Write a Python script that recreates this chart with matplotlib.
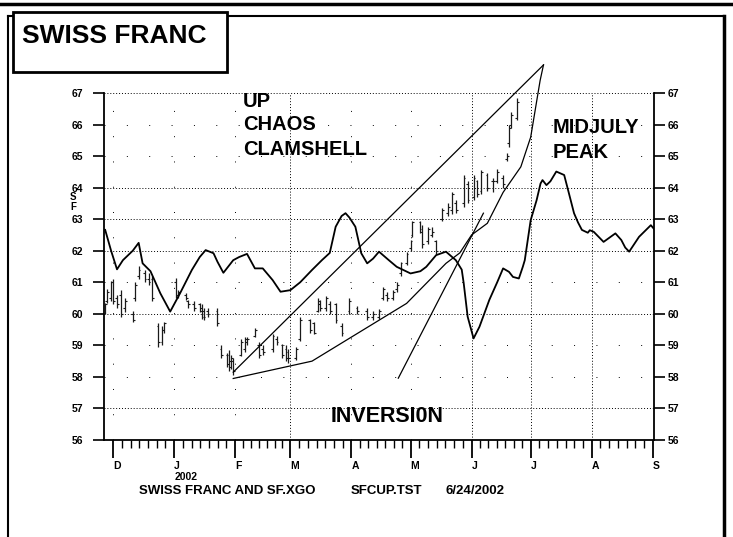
import numpy as np
import pandas as pd
import matplotlib
matplotlib.use("Agg")
import matplotlib.pyplot as plt
from matplotlib.patches import Rectangle
from matplotlib.lines import Line2D

plt.rcParams['font.family'] = ['Liberation Sans', 'DejaVu Sans']
plt.rcParams['font.weight'] = 'bold'

# x values are days counted from 1 Dec 2001
base = pd.Timestamp('2001-12-01')
month_starts = pd.date_range('2001-12-01', '2002-09-01', freq='MS')
month_labels = ['D', 'J', 'F', 'M', 'A', 'M', 'J', 'J', 'A', 'S']

# daily price bars (Swiss franc futures)
bar_day = [-4, -3, -1, 0, 2, 4, 6, 10, 11, 13, 16, 18, 20, 23, 25, 26, 32, 33, 37, 38,
           41, 44, 45, 46, 48, 53, 55, 58, 59, 60, 61, 65, 67, 68, 72, 74, 76, 81, 83, 86,
           88, 89, 93, 95, 100, 102, 104, 105, 108, 110, 113, 116, 120, 124, 129, 132, 135, 137, 139, 142,
           144, 146, 149, 151, 152, 156, 157, 160, 162, 164, 167, 170, 172, 174, 178, 180, 183, 185, 187, 190,
           193, 195, 198, 200, 201, 202, 205]
bar_high = [60.35, 60.8, 61.05, 61.1, 60.6, 60.75, 60.5, 60.1, 61.0, 61.5, 61.4, 61.3, 61.2, 59.7, 59.6, 59.75, 61.15, 60.75, 60.65, 60.45,
            60.4, 60.35, 60.3, 60.2, 60.2, 60.2, 59.0, 58.75, 58.85, 58.7, 58.6, 59.2, 59.25, 59.25, 59.55, 59.1, 59.0, 59.35, 59.3, 59.05,
            59.0, 58.9, 58.95, 59.9, 59.85, 59.75, 60.5, 60.45, 60.55, 60.4, 60.35, 59.7, 60.5, 60.25, 60.2, 60.1, 60.15, 60.85, 60.7, 60.75,
            61.0, 61.65, 61.95, 62.35, 62.95, 62.95, 62.8, 62.75, 62.75, 62.35, 63.35, 63.5, 63.85, 63.6, 64.4, 64.2, 64.4, 64.25, 64.55, 64.45,
            64.3, 64.6, 64.4, 65.1, 66.0, 66.4, 66.85]
bar_low = [60.0, 60.35, 60.4, 60.3, 60.2, 59.9, 60.05, 59.75, 60.4, 61.1, 61.0, 60.9, 60.4, 58.95, 59.0, 59.4, 60.5, 60.5, 60.45, 60.2,
           60.1, 60.05, 59.85, 59.8, 59.9, 59.6, 58.6, 58.3, 58.2, 58.25, 58.05, 58.65, 58.8, 59.0, 59.25, 58.6, 58.7, 58.8, 59.0, 58.6,
           58.5, 58.45, 58.55, 59.15, 59.4, 59.35, 60.05, 60.1, 60.1, 60.0, 59.7, 59.3, 60.0, 60.0, 59.8, 59.8, 59.85, 60.45, 60.4, 60.45,
           60.7, 61.2, 61.55, 62.0, 62.45, 62.55, 62.1, 62.2, 62.45, 61.9, 62.95, 63.1, 63.15, 63.2, 63.4, 63.5, 63.6, 63.7, 63.8, 63.9,
           63.85, 64.15, 64.0, 64.85, 65.3, 65.9, 66.15]
bar_open = [60.1, 60.4, 60.5, 61.0, 60.5, 60.6, 60.2, 60.0, 60.5, 61.2, 61.3, 61.1, 61.1, 59.6, 59.1, 59.5, 61.0, 60.6, 60.6, 60.4,
            60.3, 60.3, 60.2, 60.1, 60.1, 60.1, 58.9, 58.7, 58.7, 58.5, 58.5, 58.7, 58.9, 59.1, 59.3, 59.0, 58.9, 58.9, 59.2, 59.0,
            58.9, 58.8, 58.6, 59.2, 59.8, 59.7, 60.1, 60.3, 60.2, 60.3, 60.3, 59.6, 60.1, 60.2, 60.1, 59.9, 59.9, 60.5, 60.6, 60.5,
            60.8, 61.3, 61.6, 62.1, 62.5, 62.9, 62.7, 62.3, 62.5, 62.3, 63.0, 63.2, 63.3, 63.5, 63.5, 64.1, 63.7, 64.2, 63.9, 64.4,
            64.2, 64.2, 64.3, 64.9, 65.4, 66.0, 66.2]
bar_close = [60.3, 60.7, 61.0, 60.4, 60.3, 60.0, 60.4, 59.8, 60.9, 61.4, 61.1, 61.0, 60.5, 59.1, 59.5, 59.7, 60.6, 60.7, 60.5, 60.3,
             60.2, 60.1, 59.9, 59.9, 60.0, 59.7, 58.7, 58.4, 58.3, 58.6, 58.2, 59.1, 59.2, 59.2, 59.5, 58.7, 58.8, 59.3, 59.1, 58.7,
             58.6, 58.6, 58.9, 59.8, 59.5, 59.4, 60.4, 60.2, 60.5, 60.1, 59.8, 59.4, 60.4, 60.1, 59.9, 60.0, 60.1, 60.8, 60.5, 60.7,
             60.9, 61.6, 61.9, 62.3, 62.9, 62.6, 62.2, 62.7, 62.6, 62.0, 63.3, 63.4, 63.8, 63.3, 64.3, 63.6, 64.3, 63.8, 64.5, 64.0,
             64.2, 64.5, 64.1, 65.0, 65.9, 66.3, 66.7]

# SF.XGO smooth cycle line
xgo_day = [-4, -1, 2, 5, 10, 13, 15, 19, 24, 29, 34, 40, 44, 47, 51, 53, 56, 61, 64, 68, 72, 76, 81,
           85, 90, 95, 101, 106, 110, 113, 116, 118, 120, 123, 126, 129, 132, 135, 140, 144, 151, 156, 159, 164, 169, 174, 177, 178, 180,
           183, 186, 191, 195, 198, 201, 203, 206, 208, 209, 212, 215, 217, 218, 220, 222, 225, 229, 231, 234, 236,
           238, 241, 242, 244, 249, 255, 258, 260, 262, 267, 273, 275]
xgo_val = [62.66, 62.0, 61.41, 61.7, 62.0, 62.25, 61.6, 61.35, 60.65, 60.07, 60.65, 61.39, 61.8, 62.02, 61.92, 61.65, 61.3, 61.7, 61.8, 61.9, 61.44, 61.44, 61.07,
           60.7, 60.75, 61.0, 61.39, 61.7, 61.93, 62.76, 63.1, 63.19, 63.05, 62.76, 61.92, 61.6, 61.75, 61.97, 61.7, 61.49, 61.28, 61.35, 61.49, 61.86, 61.97, 61.7, 61.4, 60.97, 59.91,
           59.22, 59.59, 60.44, 61.0, 61.44, 61.33, 61.17, 61.12, 61.49, 61.7, 62.97, 63.6, 64.13, 64.24, 64.08, 64.2, 64.51, 64.4, 63.92, 63.19, 62.9,
           62.66, 62.57, 62.65, 62.6, 62.28, 62.55, 62.34, 62.1, 61.97, 62.44, 62.81, 62.66]

# clamshell and inversion lines
upper_day = [61, 218.5]
upper_val = [58.15, 67.89]
lower_day = [61, 101, 149, 169, 176, 182, 190, 198, 207, 212, 216.8, 218.5]
lower_val = [57.95, 58.5, 60.33, 61.6, 61.93, 62.5, 62.87, 63.85, 64.66, 65.6, 67.4, 67.89]
inv_day = [144.8, 188]
inv_val = [57.96, 63.19]

month_day = (month_starts - base).days.values

fig = plt.figure(figsize=(7.33, 5.37), dpi=100)
W, H = 733, 537
ax = fig.add_axes([104 / W, 1 - 440 / H, 550 / W, 347 / H])
ax.set_xlim(-4.6, 274.6)
ax.set_ylim(56, 67)

# grid: some lines dense, some faint like the scan
dense_y = [57, 60, 62, 63, 64, 67]
for v in range(57, 68):
    ls = (0, (1, 2)) if v in dense_y else (0, (1, 22))
    ax.axhline(v, color='black', lw=0.7, ls=ls, zorder=1)
dense_m = [3, 6, 7, 8]
for i, d in enumerate(month_day[:-1]):
    ls = (0, (1, 2)) if i in dense_m else (0, (1, 25))
    ax.axvline(d, color='black', lw=0.7, ls=ls, zorder=1)

# price bars
ax.vlines(bar_day, bar_low, bar_high, color='0.1', lw=0.9, zorder=3)
ax.hlines(bar_open, np.array(bar_day) - 0.9, bar_day, color='0.1', lw=0.8, zorder=3)
ax.hlines(bar_close, bar_day, np.array(bar_day) + 0.9, color='0.1', lw=0.8, zorder=3)

ax.plot(xgo_day, xgo_val, color='black', lw=1.3, zorder=4)
ax.plot(upper_day, upper_val, color='black', lw=0.9, clip_on=False, zorder=4)
ax.plot(lower_day, lower_val, color='black', lw=0.9, clip_on=False, zorder=4)
ax.plot(inv_day, inv_val, color='black', lw=0.9, zorder=4)

# annotations
ax.text(66, 66.56, 'UP', fontsize=14.5, fontweight='bold', va='baseline')
ax.text(66, 65.83, 'CHAOS', fontsize=14.5, fontweight='bold', va='baseline')
ax.text(66, 65.03, 'CLAMSHELL', fontsize=14.5, fontweight='bold', va='baseline')
ax.text(223.2, 65.72, 'MIDJULY', fontsize=14.5, fontweight='bold', va='baseline')
ax.text(223.2, 64.93, 'PEAK', fontsize=14.5, fontweight='bold', va='baseline')
ax.text(110.2, 56.58, 'INVERSI0N', fontsize=15.5, fontweight='bold', va='baseline')

# axes styling
ax.spines['top'].set_visible(False)
for s in ['left', 'right', 'bottom']:
    ax.spines[s].set_linewidth(1.3)
ax.set_yticks(range(56, 68))
ax.tick_params(axis='y', direction='out', length=8, width=1.2, labelsize=7.5, pad=7)
ax.set_xticks(month_day)
ax.set_xticklabels(month_labels)
minor = []
for a, b in zip(month_day[:-1], month_day[1:]):
    minor += list(np.linspace(a, b, 8)[1:-1])
ax.set_xticks(minor, minor=True)
ax.tick_params(axis='x', which='major', direction='out', length=13, width=1.3, labelsize=7.5, pad=2)
ax.tick_params(axis='x', which='minor', direction='out', length=6, width=1.0)
for lbl in ax.get_xticklabels():
    lbl.set_ha('left')

ax2 = ax.twinx()
ax2.set_ylim(56, 67)
ax2.set_yticks(range(56, 68))
ax2.tick_params(axis='y', direction='out', length=8, width=1.2, labelsize=7.5, pad=2)
for s in ax2.spines.values():
    s.set_visible(False)

ax.text(month_day[1], -0.107, '2002', transform=ax.get_xaxis_transform(), fontsize=7.5,
        fontweight='bold', va='center', ha='left')
fig.text(73 / W, 1 - 202 / H, 'S\nF', fontsize=7, fontweight='bold', ha='center', va='center', linespacing=0.9)

fig.text(139 / W, 1 - 491 / H, 'SWISS FRANC AND SF.XGO', fontsize=9.5, fontweight='bold', va='center')
fig.text(351 / W, 1 - 491 / H, 'SFCUP.TST', fontsize=9.5, fontweight='bold', va='center')
fig.text(446 / W, 1 - 491 / H, '6/24/2002', fontsize=9.5, fontweight='bold', va='center')

# page frame and title box
fig.add_artist(Line2D([0, 1], [1 - 4 / H] * 2, lw=2.5, color='black', transform=fig.transFigure))
fig.add_artist(Line2D([8 / W, 724 / W], [1 - 16 / H] * 2, lw=1.5, color='black', transform=fig.transFigure))
fig.add_artist(Line2D([8 / W] * 2, [0, 1 - 16 / H], lw=1.5, color='black', transform=fig.transFigure))
fig.add_artist(Line2D([724 / W] * 2, [0, 1 - 16 / H], lw=2.5, color='black', transform=fig.transFigure))
fig.add_artist(Rectangle((13 / W, 1 - 72 / H), 214 / W, 60 / H, facecolor='white', edgecolor='black',
                         lw=2, transform=fig.transFigure, zorder=5))
fig.text(22 / W, 1 - 36 / H, 'SWISS FRANC', fontsize=19, fontweight='bold', va='center', zorder=6)

fig.savefig('out.png', dpi=100)
